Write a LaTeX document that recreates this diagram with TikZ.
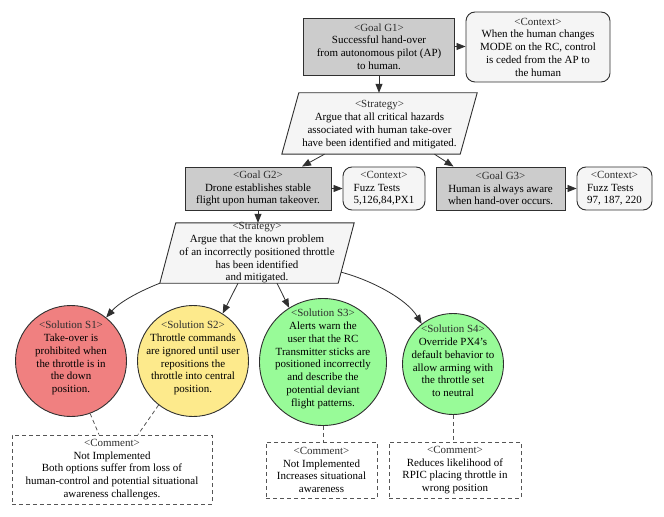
\documentclass[tikz,border=0pt]{standalone}
\usepackage{fontspec}
\setmainfont{Liberation Serif}
\usetikzlibrary{arrows.meta,calc}
\definecolor{goalfill}{HTML}{CCCCCC}
\definecolor{ctxfill}{HTML}{F5F5F5}
\definecolor{redfill}{HTML}{F08080}
\definecolor{yelfill}{HTML}{FDEA8C}
\definecolor{grnfill}{HTML}{98FB98}
\definecolor{hdrcol}{HTML}{2E2E2E}
\definecolor{linecol}{HTML}{303030}
\definecolor{dashcol}{HTML}{555555}
\newcommand{\mkhd}[1]{\textcolor{hdrcol}{#1}}
\tikzset{
  every node/.style={font=\fontsize{11}{12.8}\selectfont},
  goalbox/.style={draw=linecol, line width=0.9bp, fill=goalfill, rectangle, inner sep=1bp, align=center},
  ctxbox/.style={draw=linecol, line width=0.9bp, fill=ctxfill, rectangle, rounded corners=9bp, inner sep=1bp, align=center},
  bbox/.style={rectangle, inner sep=0pt},
  stratshape/.style={draw=linecol, line width=0.9bp, fill=ctxfill},
  solbox/.style={draw=linecol, line width=0.9bp, circle, inner sep=0pt},
  txt/.style={align=center, inner sep=0pt},
  cmtbox/.style={draw=dashcol, line width=0.9bp, dash pattern=on 4bp off 3bp, rectangle, inner sep=1bp, align=center},
  arr/.style={draw=linecol, line width=0.8bp, -{Triangle[length=9bp,width=7bp]}},
  dashlink/.style={draw=dashcol, line width=0.8bp, dash pattern=on 4bp off 3bp},
}
\begin{document}
\begin{tikzpicture}[x=1bp,y=-1bp]
\useasboundingbox[fill=white] (0,0) rectangle (664,517);

% Goal G1 and context
\node[goalbox, minimum width=151bp, minimum height=57bp] (g1) at (379,46.5)
  {\mkhd{<Goal G1>}\\Successful hand-over\\from autonomous pilot (AP)\\to human.};
\node[ctxbox, minimum width=144bp, minimum height=70bp] (c1) at (538,47)
  {\mkhd{<Context>}\\When the human changes\\MODE on the RC, control\\is ceded from the AP to\\the human};

% Strategy 1
\node[bbox, minimum width=195bp, minimum height=61bp] (st1) at (379.5,123.5) {};
\draw[stratshape] ($(st1.north west)+(17,0)$) -- (st1.north east) -- ($(st1.south east)+(-17,0)$) -- (st1.south west) -- cycle;
\node[txt] (st1t) at ($(st1)+(0,1)$)
  {\mkhd{<Strategy>}\\Argue that all critical hazards\\associated with human take-over\\have been identified and mitigated.};

% Goals G2, G3 and contexts
\node[goalbox, minimum width=146bp, minimum height=43bp] (g2) at (258,188.5)
  {\mkhd{<Goal G2>}\\Drone establishes stable\\flight upon human takeover.};
\node[ctxbox, minimum width=82bp, minimum height=43bp] (c2) at (384,188.5)
  {\begin{tabular}{@{}l@{}}\multicolumn{1}{@{}c@{}}{\mkhd{<Context>}}\\Fuzz Tests\\5,126,84,PX1\end{tabular}};
\node[goalbox, minimum width=129bp, minimum height=43bp] (g3) at (500.5,188.5)
  {\mkhd{<Goal G3>}\\Human is always aware\\when hand-over occurs.};
\node[ctxbox, minimum width=75bp, minimum height=43bp] (c3) at (614.5,188.5)
  {\begin{tabular}{@{}l@{}}\multicolumn{1}{@{}c@{}}{\mkhd{<Context>}}\\Fuzz Tests\\97, 187, 220\end{tabular}};

% Strategy 2
\node[bbox, minimum width=194bp, minimum height=60bp] (st2) at (257,253) {};
\draw[stratshape] ($(st2.north west)+(16,0)$) -- (st2.north east) -- ($(st2.south east)+(-16,0)$) -- (st2.south west) -- cycle;
\node[txt] (st2t) at ($(st2)+(0,0)$)
  {\mkhd{<Strategy>}\\Argue that the known problem\\of an incorrectly positioned throttle\\has been identified\\and mitigated.};

% Solutions
\node[solbox, fill=redfill, minimum size=111bp] (s1) at (71,361) {};
\node[txt] (s1t) at ($(s1)+(0,-3)$)
  {\mkhd{<Solution S1>}\\Take-over is\\prohibited when\\the throttle is in\\the down\\position.};
\node[solbox, fill=yelfill, minimum size=111bp] (s2) at (193,361) {};
\node[txt] (s2t) at ($(s2)+(0,-3)$)
  {\mkhd{<Solution S2>}\\Throttle commands\\are ignored until user\\repositions the\\throttle into central\\position.};
\node[solbox, fill=grnfill, minimum size=127bp] (s3) at (323,362) {};
\node[txt] (s3t) at ($(s3)+(0,-3)$)
  {\mkhd{<Solution S3>}\\Alerts warn the\\user that the RC\\Transmitter sticks are\\positioned incorrectly\\and describe the\\potential deviant\\flight patterns.};
\node[solbox, fill=grnfill, minimum size=101bp] (s4) at (453,364) {};
\node[txt] (s4t) at ($(s4)+(0,-3)$)
  {\mkhd{<Solution S4>}\\Override PX4's\\default behavior to\\allow arming with\\the throttle set\\to neutral};

% Comments
\node[cmtbox, minimum width=200bp, minimum height=69bp] (cm1) at (112,469.5)
  {\mkhd{<Comment>}\\Not Implemented\\Both options suffer from loss of\\human-control and potential situational\\awareness challenges.};
\node[cmtbox, minimum width=111bp, minimum height=56bp] (cm3) at (321.5,470)
  {\mkhd{<Comment>}\\Not Implemented\\Increases situational\\awareness};
\node[cmtbox, minimum width=132bp, minimum height=56bp] (cm4) at (455,470)
  {\mkhd{<Comment>}\\Reduces likelihood of\\RPIC placing throttle in\\wrong position};

% Connectors
\draw[arr] (g1.east) -- (c1.west |- g1.east);
\draw[arr] (g1.south) -- (g1.south |- st1.north);
\draw[arr] ($(st1.south)+(-55,0)$) -- ($(g2.north)+(44,0)$);
\draw[arr] ($(st1.south)+(55,0)$) -- ($(g3.north)+(-47,0)$);
\draw[arr] (g2.east) -- (c2.west |- g2.east);
\draw[arr] (g3.east) -- (c3.west |- g3.east);
\draw[arr] (g2.south) -- (g2.south |- st2.north);
\draw[arr] (st2.south west) .. controls +(-25,10) and +(12,-14) .. (s1.51);
\draw[arr] ($(st2.south)+(-19,0)$) -- (s2.58);
\draw[arr] ($(st2.south)+(20,0)$) -- (s3.122);
\draw[arr] ($(st2.south east)+(-13,-11)$) .. controls +(30,8) and +(-15,-25) .. (s4.128);

\draw[dashlink] (s1.290) -- ($(cm1.north)+(-13,0)$);
\draw[dashlink] (s2.232) -- ($(cm1.north)+(26,0)$);
\draw[dashlink] (s3.south) -- (s3.south |- cm3.north);
\draw[dashlink] (s4.south) -- (s4.south |- cm4.north);
\end{tikzpicture}
\end{document}
